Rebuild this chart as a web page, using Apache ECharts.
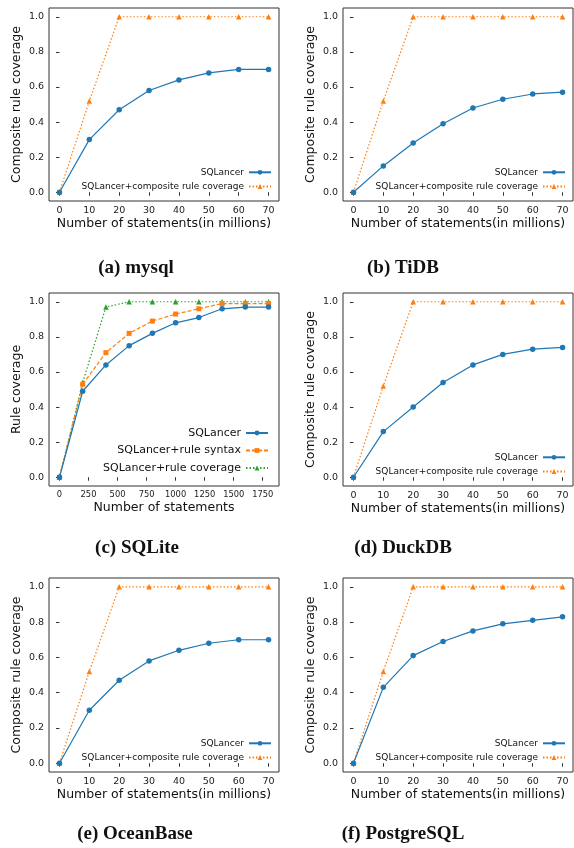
<!DOCTYPE html>
<html>
<head>
<meta charset="utf-8">
<script src="https://cdn.jsdelivr.net/npm/echarts@6/dist/echarts.min.js"></script>
<style>
  html, body { margin: 0; padding: 0; background: #fff; }
  #main { width: 574px; height: 848px; }
</style>
</head>
<body>
<div id="main"></div>
<script>
// x values (statements, in millions for most engines)
const stmtMillions = [0, 10, 20, 30, 40, 50, 60, 70];
const sqliteStmts = [0, 200, 400, 600, 800, 1000, 1200, 1400, 1600, 1800];

// tick labels
const xTicksMillions = [0, 10, 20, 30, 40, 50, 60, 70];
const xTicksSqlite = [0, 250, 500, 750, 1000, 1250, 1500, 1750];
const yTicks = [0, 0.2, 0.4, 0.6, 0.8, 1.0];

// coverage values
const mysqlBase = [0, 0.30, 0.47, 0.58, 0.64, 0.68, 0.70, 0.70];
const mysqlComposite = [0, 0.52, 1, 1, 1, 1, 1, 1];
const tidbBase = [0, 0.15, 0.28, 0.39, 0.48, 0.53, 0.56, 0.57];
const tidbComposite = [0, 0.52, 1, 1, 1, 1, 1, 1];
const sqliteBase = [0, 0.49, 0.64, 0.75, 0.82, 0.88, 0.91, 0.96, 0.97, 0.97];
const sqliteSyntax = [0, 0.53, 0.71, 0.82, 0.89, 0.93, 0.96, 0.99, 0.99, 0.99];
const sqliteCoverage = [0, 0.54, 0.97, 1, 1, 1, 1, 1, 1, 1];
const duckdbBase = [0, 0.26, 0.40, 0.54, 0.64, 0.70, 0.73, 0.74];
const duckdbComposite = [0, 0.52, 1, 1, 1, 1, 1, 1];
const oceanbaseBase = [0, 0.30, 0.47, 0.58, 0.64, 0.68, 0.70, 0.70];
const oceanbaseComposite = [0, 0.52, 1, 1, 1, 1, 1, 1];
const postgresBase = [0, 0.43, 0.61, 0.69, 0.75, 0.79, 0.81, 0.83];
const postgresComposite = [0, 0.52, 1, 1, 1, 1, 1, 1];

const captions = ['(a) mysql', '(b) TiDB', '(c) SQLite', '(d) DuckDB', '(e) OceanBase', '(f) PostgreSQL'];

const BLUE = '#1f77b4', ORANGE = '#ff7f0e', GREEN = '#2ca02c';
const FONT = '"DejaVu Sans", sans-serif';

const chart = echarts.init(document.getElementById('main'), null, { renderer: 'canvas' });

// plot boxes (pixel layout)
const boxes = [
    { left: 49, top: 8, width: 230, height: 193 },
    { left: 343, top: 8, width: 230, height: 193 },
    { left: 49, top: 293, width: 230, height: 193 },
    { left: 343, top: 293, width: 230, height: 193 },
    { left: 49, top: 578, width: 230, height: 194 },
    { left: 343, top: 578, width: 230, height: 194 }
];
const captionPos = [[136, 259], [403, 259], [137, 539], [403, 539], [135, 825], [403, 825]];

const styles = {
    base: { color: BLUE, symbol: 'circle', type: 'solid', size: 5.5 },
    composite: { color: ORANGE, symbol: 'triangle', type: [1.5, 2], size: 5.5 },
    syntax: { color: ORANGE, symbol: 'rect', type: [4, 2], size: 5 },
    coverage: { color: GREEN, symbol: 'triangle', type: [1.5, 2], size: 5.5 }
};

const panels = [
    { xs: stmtMillions, ticks: xTicksMillions, range: [-3.5, 73.5], xName: 'Number of statements(in millions)', yName: 'Composite rule coverage',
      lines: [['SQLancer', mysqlBase, 'base'], ['SQLancer+composite rule coverage', mysqlComposite, 'composite']] },
    { xs: stmtMillions, ticks: xTicksMillions, range: [-3.5, 73.5], xName: 'Number of statements(in millions)', yName: 'Composite rule coverage',
      lines: [['SQLancer', tidbBase, 'base'], ['SQLancer+composite rule coverage', tidbComposite, 'composite']] },
    { xs: sqliteStmts, ticks: xTicksSqlite, range: [-90, 1890], xName: 'Number of statements', yName: 'Rule coverage', big: true,
      lines: [['SQLancer', sqliteBase, 'base'], ['SQLancer+rule syntax', sqliteSyntax, 'syntax'], ['SQLancer+rule coverage', sqliteCoverage, 'coverage']] },
    { xs: stmtMillions, ticks: xTicksMillions, range: [-3.5, 73.5], xName: 'Number of statements(in millions)', yName: 'Composite rule coverage',
      lines: [['SQLancer', duckdbBase, 'base'], ['SQLancer+composite rule coverage', duckdbComposite, 'composite']] },
    { xs: stmtMillions, ticks: xTicksMillions, range: [-3.5, 73.5], xName: 'Number of statements(in millions)', yName: 'Composite rule coverage',
      lines: [['SQLancer', oceanbaseBase, 'base'], ['SQLancer+composite rule coverage', oceanbaseComposite, 'composite']] },
    { xs: stmtMillions, ticks: xTicksMillions, range: [-3.5, 73.5], xName: 'Number of statements(in millions)', yName: 'Composite rule coverage',
      lines: [['SQLancer', postgresBase, 'base'], ['SQLancer+composite rule coverage', postgresComposite, 'composite']] }
];

const grid = [], xAxis = [], yAxis = [], series = [], legend = [], title = [];

panels.forEach((p, i) => {
    const b = boxes[i];
    grid.push({ left: b.left, top: b.top, width: b.width, height: b.height, show: true,
        borderColor: '#333', borderWidth: 1, containLabel: false });

    xAxis.push({
        type: 'value', gridIndex: i, min: p.range[0], max: p.range[1],
        name: p.xName, nameLocation: 'middle', nameGap: 15,
        nameTextStyle: { fontFamily: FONT, fontSize: 12.5, color: '#111' },
        axisLine: { show: false },
        axisTick: { show: true, length: 3.5, lineStyle: { color: '#333' }, customValues: p.ticks },
        axisLabel: { customValues: p.ticks, fontFamily: FONT, fontSize: p.big ? 8.3 : 9.5, color: '#222', margin: 5,
            formatter: v => String(v) },
        splitLine: { show: false }
    });
    yAxis.push({
        type: 'value', gridIndex: i, min: -0.05, max: 1.05,
        name: p.yName, nameLocation: 'middle', nameGap: 26,
        nameTextStyle: { fontFamily: FONT, fontSize: 12.5, color: '#111' },
        axisLine: { show: false },
        axisTick: { show: true, length: 3.5, lineStyle: { color: '#333' }, customValues: yTicks },
        axisLabel: { customValues: yTicks, fontFamily: FONT, fontSize: 9.5, color: '#222', margin: 5,
            formatter: v => v.toFixed(1) },
        splitLine: { show: false }
    });

    const rowGap = p.big ? 17.5 : 14.2;
    const firstOffset = p.big ? 17 : 13.5;
    const n = p.lines.length;
    p.lines.forEach(([name, vals, key], k) => {
        const s = styles[key];
        series.push({
            type: 'line', name: name, xAxisIndex: i, yAxisIndex: i,
            data: p.xs.map((x, j) => [x, vals[j]]),
            symbol: s.symbol, symbolSize: s.size,
            lineStyle: { color: s.color, width: 1.2, type: s.type },
            itemStyle: { color: s.color },
            animation: false, z: 10 - k
        });
        // one legend per entry so the handles line up on the right
        const rowCenter = b.top + b.height - firstOffset - (n - 1 - k) * rowGap;
        legend.push({
            data: [name], orient: 'vertical', align: 'right', padding: 0,
            right: 574 - (b.left + b.width - (p.big ? 10 : 7)),
            top: rowCenter - (p.big ? 6.5 : 5.5),
            itemWidth: 22, itemHeight: 6, selectedMode: false,
            textStyle: { fontFamily: FONT, fontSize: p.big ? 11 : 9, color: '#111' }
        });
    });

    title.push({
        text: captions[i], left: captionPos[i][0], top: captionPos[i][1], textAlign: 'center', padding: 0,
        textStyle: { fontFamily: '"Liberation Serif", serif', fontWeight: 'bold', fontSize: 19, color: '#111' }
    });
});

chart.setOption({ animation: false, title, grid, xAxis, yAxis, series, legend });
</script>
</body>
</html>
